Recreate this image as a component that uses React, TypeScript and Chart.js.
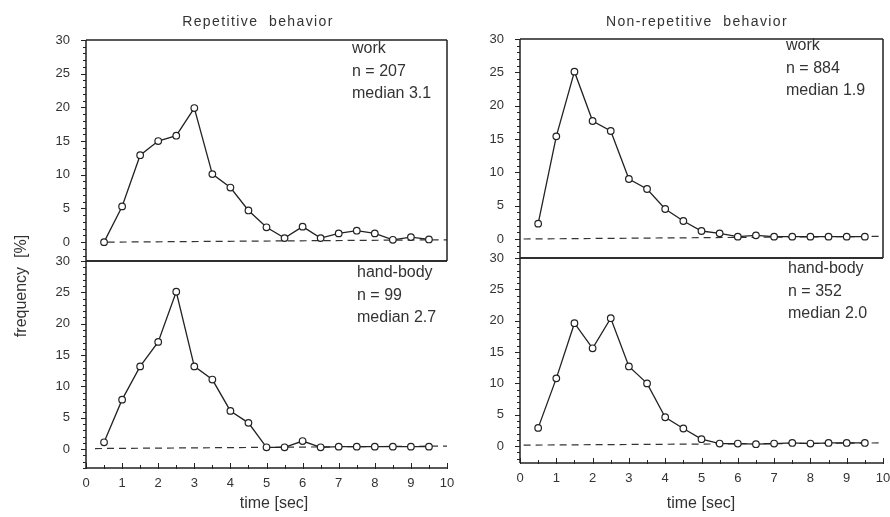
import React, { useEffect, useRef } from "react";
import { Chart, registerables } from "chart.js";

Chart.register(...registerables);

// ---------- data ----------
const timeBins = [0.5, 1, 1.5, 2, 2.5, 3, 3.5, 4, 4.5, 5, 5.5, 6, 6.5, 7, 7.5, 8, 8.5, 9, 9.5];

const repetitiveWork = [0, 5.3, 12.9, 15.0, 15.8, 19.9, 10.1, 8.1, 4.7, 2.2, 0.6, 2.3, 0.6, 1.3, 1.7, 1.3, 0.35, 0.75, 0.4];
const repetitiveHandBody = [1.1, 7.9, 13.2, 17.1, 25.1, 13.2, 11.1, 6.1, 4.2, 0.3, 0.3, 1.3, 0.3, 0.4, 0.4, 0.4, 0.4, 0.4, 0.4];
const nonRepetitiveWork = [2.3, 15.4, 25.1, 17.7, 16.2, 9.0, 7.5, 4.5, 2.7, 1.2, 0.85, 0.35, 0.55, 0.35, 0.35, 0.35, 0.35, 0.35, 0.35];
const nonRepetitiveHandBody = [2.9, 10.8, 19.6, 15.6, 20.4, 12.7, 10.0, 4.6, 2.8, 1.1, 0.4, 0.4, 0.3, 0.4, 0.5, 0.4, 0.5, 0.5, 0.5];

// dashed zero reference lines (start / end)
const baselineTL_X = [0.6, 10];
const baselineTL_Y = [0, 0.35];
const baselineBL_X = [0.25, 10];
const baselineBL_Y = [0.1, 0.5];
const baselineTR_X = [0.1, 10];
const baselineTR_Y = [0, 0.4];
const baselineBR_X = [0.1, 10];
const baselineBR_Y = [0.15, 0.5];

const yTickValues = [0, 5, 10, 15, 20, 25, 30];
const xTickValues = [0, 1, 2, 3, 4, 5, 6, 7, 8, 9, 10];

const columnTitles = ["Repetitive  behavior", "Non-repetitive  behavior"];
const yAxisTitle = "frequency  [%]";
const xAxisTitle = "time [sec]";

const textTL = ["work", "n = 207", "median 3.1"];
const textBL = ["hand-body", "n = 99", "median 2.7"];
const textTR = ["work", "n = 884", "median 1.9"];
const textBR = ["hand-body", "n = 352", "median 2.0"];

// ---------- styling ----------
const INK = "#222";
const TEXT = "#333";
const TICK_FONT = '"Liberation Sans Narrow", "Liberation Sans", Arial, sans-serif';
const LABEL_FONT = '"Liberation Sans", Arial, sans-serif';
const Y_AXIS_W = 45;
const X_AXIS_H = 30;
const PAD_R = 14;
const PAD_V = 20;

const decorPlugin = {
  id: "panelDecor",
  afterDraw(chart: any, _args: any, opts: any) {
    const { ctx, chartArea: a, scales } = chart;
    const x = scales.x;
    const y = scales.y;
    ctx.save();
    // frame
    ctx.strokeStyle = INK;
    ctx.lineWidth = 1.5;
    ctx.beginPath();
    if (opts.frame.top) { ctx.moveTo(a.left, a.top); ctx.lineTo(a.right, a.top); }
    if (opts.frame.right) { ctx.moveTo(a.right, a.top); ctx.lineTo(a.right, a.bottom); }
    if (opts.frame.bottom) { ctx.moveTo(a.left, a.bottom); ctx.lineTo(a.right, a.bottom); }
    ctx.moveTo(a.left, a.top); ctx.lineTo(a.left, a.bottom);
    ctx.stroke();
    // y tick marks (outward)
    ctx.lineWidth = 1;
    ctx.beginPath();
    for (let v = Math.ceil(y.min); v <= y.max; v++) {
      const py = Math.round(y.getPixelForValue(v)) + 0.5;
      const len = v % 5 === 0 ? 5 : 3;
      ctx.moveTo(a.left - len, py);
      ctx.lineTo(a.left, py);
    }
    ctx.stroke();
    // x tick marks (inward) on bottom panels
    if (opts.xTicks) {
      ctx.beginPath();
      for (let v = 0; v <= 10; v += 0.5) {
        const px = Math.round(x.getPixelForValue(v)) + 0.5;
        const len = Number.isInteger(v) ? 5 : 3;
        ctx.moveTo(px, a.bottom + 1);
        ctx.lineTo(px, a.bottom - len);
      }
      ctx.stroke();
    }
    // annotation text
    ctx.fillStyle = TEXT;
    ctx.font = `16px ${LABEL_FONT}`;
    ctx.textAlign = "left";
    ctx.textBaseline = "middle";
    opts.lines.forEach((t: string, i: number) => {
      ctx.fillText(t, a.right + opts.textDx, a.top + opts.textDy + i * 22.5);
    });
    ctx.restore();
  },
};

type Panel = {
  values: number[];
  baseX: number[];
  baseY: number[];
  yMin: number;
  showX: boolean;
  lines: string[];
  textDx: number;
  textDy: number;
  frame: { top: boolean; right: boolean; bottom: boolean };
  left: number;
  top: number;
  width: number;
  height: number;
};

// chart areas: left column x 86..447, right column x 520..883
const panels: Panel[] = [
  {
    values: repetitiveWork, baseX: baselineTL_X, baseY: baselineTL_Y, yMin: -2.8, showX: false,
    lines: textTL, textDx: -95, textDy: 9, frame: { top: true, right: true, bottom: true },
    left: 86 - Y_AXIS_W, top: 40 - PAD_V, width: 447 + PAD_R - (86 - Y_AXIS_W), height: 261 - 40 + 2 * PAD_V,
  },
  {
    values: repetitiveHandBody, baseX: baselineBL_X, baseY: baselineBL_Y, yMin: -3.0, showX: true,
    lines: textBL, textDx: -90, textDy: 12, frame: { top: true, right: false, bottom: true },
    left: 86 - Y_AXIS_W, top: 261 - PAD_V, width: 447 + PAD_R - (86 - Y_AXIS_W), height: 468 - 261 + PAD_V + X_AXIS_H,
  },
  {
    values: nonRepetitiveWork, baseX: baselineTR_X, baseY: baselineTR_Y, yMin: -2.85, showX: false,
    lines: textTR, textDx: -97, textDy: 7, frame: { top: true, right: true, bottom: true },
    left: 520 - Y_AXIS_W, top: 39 - PAD_V, width: 883 + PAD_R - (520 - Y_AXIS_W), height: 258 - 39 + 2 * PAD_V,
  },
  {
    values: nonRepetitiveHandBody, baseX: baselineBR_X, baseY: baselineBR_Y, yMin: -2.7, showX: true,
    lines: textBR, textDx: -95, textDy: 11, frame: { top: true, right: false, bottom: true },
    left: 520 - Y_AXIS_W, top: 258 - PAD_V, width: 883 + PAD_R - (520 - Y_AXIS_W), height: 463 - 258 + PAD_V + X_AXIS_H,
  },
];

function makeConfig(p: Panel): any {
  return {
    type: "line",
    data: {
      datasets: [
        {
          data: timeBins.map((t, i) => ({ x: t, y: p.values[i] })),
          borderColor: INK,
          borderWidth: 1.3,
          pointRadius: 3.3,
          pointBackgroundColor: "#fff",
          pointBorderColor: INK,
          pointBorderWidth: 1.2,
          tension: 0,
          order: 0,
        },
        {
          data: p.baseX.map((t, i) => ({ x: t, y: p.baseY[i] })),
          borderColor: "#333",
          borderWidth: 1.2,
          borderDash: [7, 5],
          pointRadius: 0,
          tension: 0,
          order: 1,
        },
      ],
    },
    options: {
      responsive: false,
      animation: false,
      events: [],
      layout: { padding: { top: PAD_V, bottom: p.showX ? 0 : PAD_V, left: 0, right: PAD_R } },
      plugins: {
        legend: { display: false },
        tooltip: { enabled: false },
        panelDecor: { lines: p.lines, textDx: p.textDx, textDy: p.textDy, frame: p.frame, xTicks: p.showX },
      },
      scales: {
        x: {
          type: "linear",
          min: 0,
          max: 10,
          display: p.showX,
          grid: { display: false },
          border: { display: false },
          ticks: { padding: 0, color: TEXT, font: { family: TICK_FONT, size: 13 } },
          afterBuildTicks: (s: any) => { s.ticks = xTickValues.map((v) => ({ value: v })); },
          afterFit: (s: any) => { s.height = p.showX ? X_AXIS_H : 0; },
        },
        y: {
          type: "linear",
          min: p.yMin,
          max: 30,
          grid: { display: false },
          border: { display: false },
          ticks: { padding: 8, color: TEXT, font: { family: TICK_FONT, size: 13 } },
          afterBuildTicks: (s: any) => { s.ticks = yTickValues.map((v) => ({ value: v })); },
          afterFit: (s: any) => { s.width = Y_AXIS_W; },
        },
      },
    },
    plugins: [decorPlugin],
  };
}

export default function App() {
  const refs = useRef<(HTMLCanvasElement | null)[]>([]);

  useEffect(() => {
    const charts = panels.map((p, i) => new Chart(refs.current[i] as HTMLCanvasElement, makeConfig(p)));
    return () => charts.forEach((c) => c.destroy());
  }, []);

  const label = (text: string, cx: number, cy: number, extra: React.CSSProperties = {}) => (
    <div
      style={{
        position: "absolute",
        left: cx,
        top: cy,
        transform: "translate(-50%, -50%)",
        whiteSpace: "pre",
        fontFamily: LABEL_FONT,
        color: TEXT,
        fontSize: 16,
        lineHeight: 1,
        ...extra,
      }}
    >
      {text}
    </div>
  );

  return (
    <div
      style={{
        position: "fixed",
        left: 0,
        top: 0,
        width: 890,
        height: 517,
        overflow: "hidden",
        background: "#fff",
      }}
    >
      {panels.map((p, i) => (
        <canvas
          key={i}
          ref={(el) => { refs.current[i] = el; }}
          width={p.width}
          height={p.height}
          style={{ position: "absolute", left: p.left, top: p.top, width: p.width, height: p.height }}
        />
      ))}
      {label(columnTitles[0], 258, 21, { fontSize: 14, letterSpacing: "1.4px" })}
      {label(columnTitles[1], 697, 21, { fontSize: 14, letterSpacing: "1.4px" })}
      {label(yAxisTitle, 21, 286, { transform: "translate(-50%, -50%) rotate(-90deg)" })}
      {label(xAxisTitle, 274, 503)}
      {label(xAxisTitle, 701, 503)}
    </div>
  );
}
